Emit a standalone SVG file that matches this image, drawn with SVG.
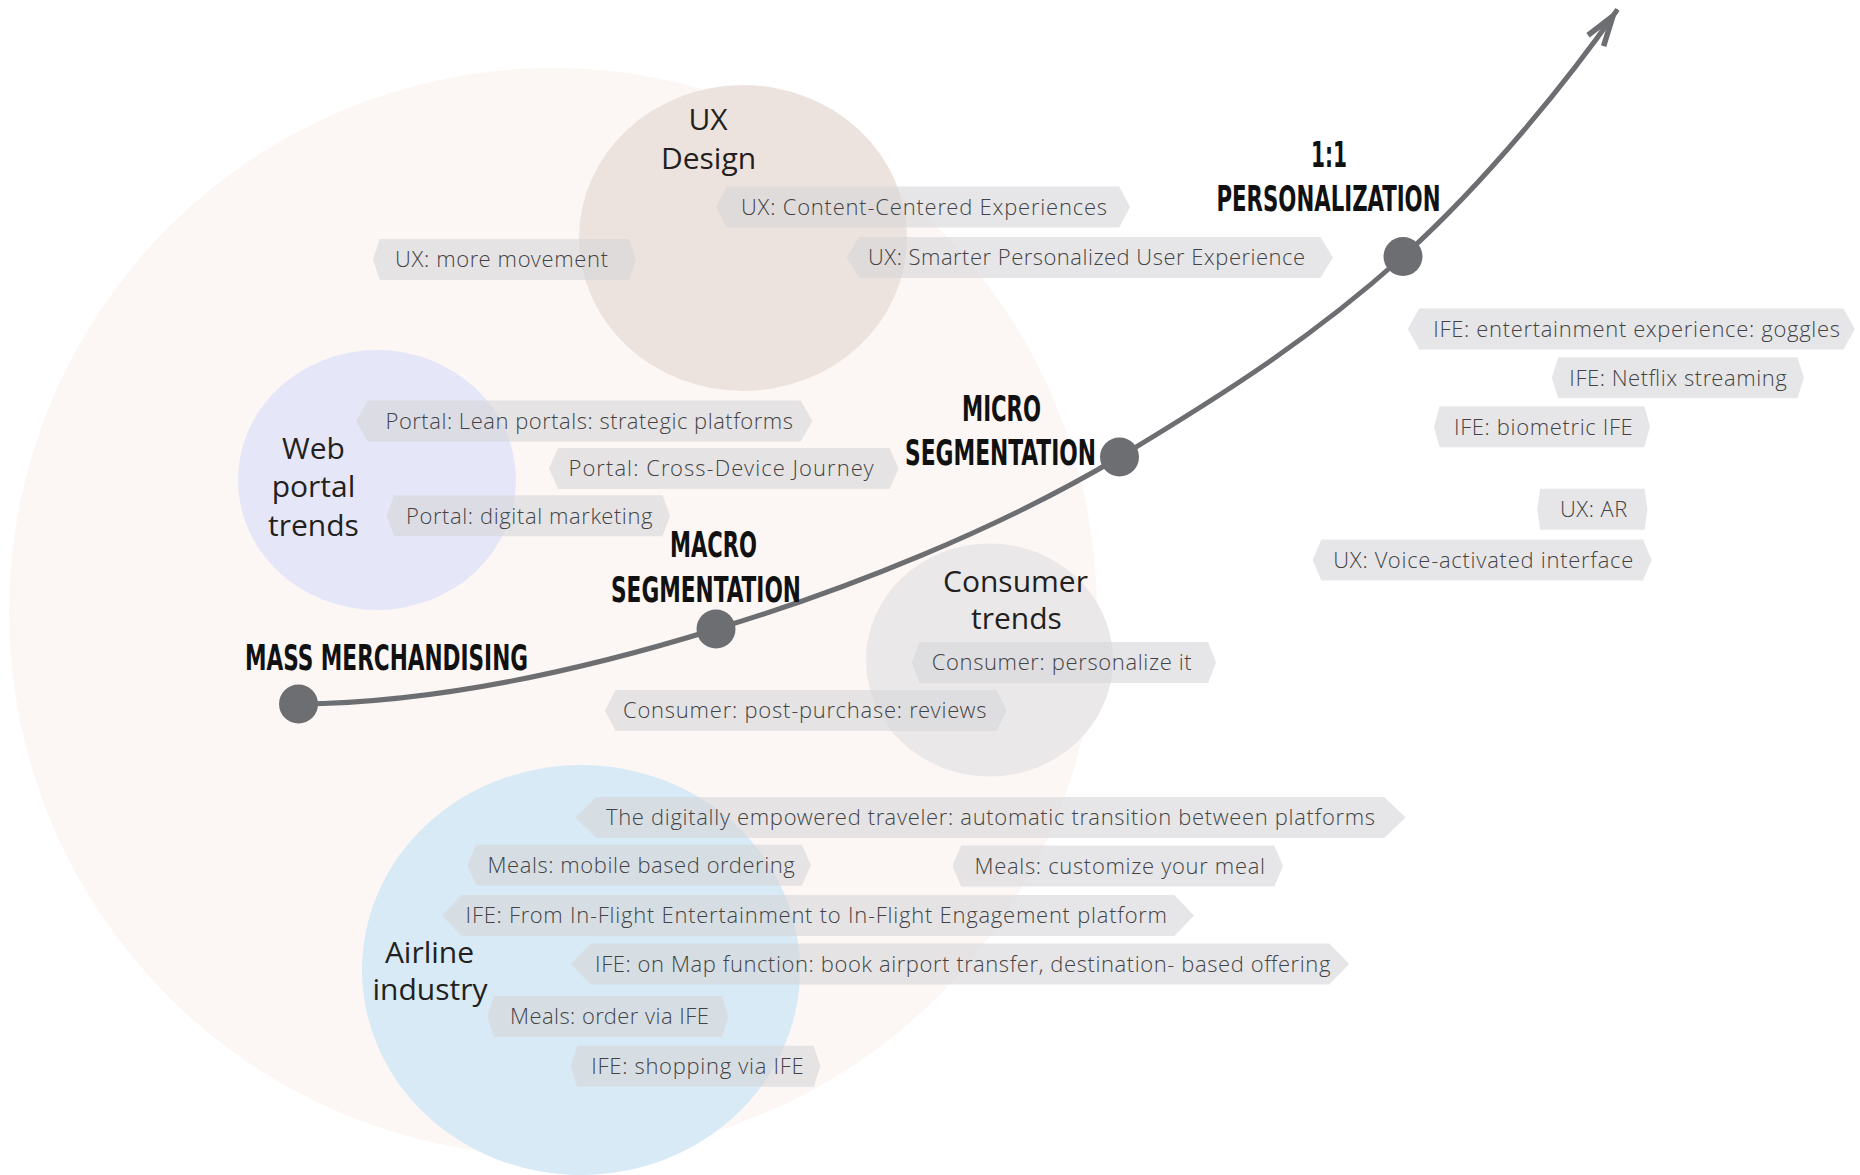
<svg xmlns="http://www.w3.org/2000/svg" width="1860" height="1175" viewBox="0 0 1860 1175">
  <style>
    .bg { fill: #ffffff; }
    .tag { fill: #d6d6d8; fill-opacity: 0.6; }
    .tagtxt { font-family: 'Open Sans Light', 'Open Sans', 'Noto Sans', 'Liberation Sans', sans-serif; font-weight: 300; font-size: 22px; fill: #434345; }
    .region { font-family: 'Open Sans', 'Noto Sans', 'Liberation Sans', sans-serif; font-size: 30px; fill: #231f20; text-anchor: middle; }
    .stage { font-family: 'Liberation Sans Narrow', 'DejaVu Sans Condensed', 'Liberation Sans', sans-serif; font-weight: 700; font-size: 36px; fill: #111111; }
    .dot { fill: #6d6e71; }
    .curve { fill: none; stroke: #6d6e71; stroke-width: 5; }
  </style>
  <defs>
    <!-- open chevron head; vertex set back so the mitred point lands on the path end -->
    <marker id="chevron" markerUnits="userSpaceOnUse" orient="auto" markerWidth="50" markerHeight="40" viewBox="-45 -20 50 40" refX="0" refY="0" overflow="visible">
      <path d="M-38,-9.5 L-8,0 L-38,9.5" fill="none" stroke="#6d6e71" stroke-width="5.5" stroke-linejoin="miter" stroke-miterlimit="12" stroke-linecap="butt"/>
    </marker>
  </defs>

  <rect class="bg" x="0" y="0" width="1860" height="1175"/>

  <!-- outer field -->
  <circle id="field" cx="553" cy="612" r="544" fill="#fcf7f4"/>

  <!-- topic regions -->
  <g id="region-ux">
    <ellipse cx="743" cy="238" rx="164" ry="153" fill="#ede3de"/>
    <text class="region" x="708" y="129.5">UX</text>
    <text class="region" x="708.5" y="168.5">Design</text>
  </g>
  <g id="region-web">
    <ellipse cx="377" cy="480" rx="139" ry="130" fill="#e5e7f8"/>
    <text class="region" x="313.5" y="458.5">Web</text>
    <text class="region" x="313.5" y="497">portal</text>
    <text class="region" x="313.5" y="536">trends</text>
  </g>
  <g id="region-consumer">
    <ellipse cx="989.5" cy="660" rx="123.5" ry="116.5" fill="#ebe8e9"/>
    <text class="region" x="1015.5" y="591.5">Consumer</text>
    <text class="region" x="1016.5" y="629.3">trends</text>
  </g>
  <g id="region-airline">
    <ellipse cx="581" cy="970" rx="219" ry="205" fill="#d8eaf6"/>
    <text class="region" x="429.5" y="962.5">Airline</text>
    <text class="region" x="430" y="999.5">industry</text>
  </g>

  <!-- growth curve -->
  <g id="connectors">
    <path class="curve" marker-end="url(#chevron)" d="M298.5,704 C440,703 590,668 716,629 C846,590 999,529 1119.5,457 C1229,391 1313,337 1403,256.5 C1488,180 1572,75 1617.5,9.5"/>
  </g>

  <!-- trend tags -->
  <g id="tag-ux-content">
    <polygon class="tag" points="716,207 726.8,186.5 1119.2,186.5 1130,207 1119.2,227.5 726.8,227.5"/>
    <text class="tagtxt" x="741" y="214.8" textLength="366" lengthAdjust="spacing">UX: Content-Centered Experiences</text>
  </g>
  <g id="tag-ux-movement">
    <polygon class="tag" points="373,259.5 379.8,239 629.2,239 636,259.5 629.2,280 379.8,280"/>
    <text class="tagtxt" x="395" y="267.3" textLength="213" lengthAdjust="spacing">UX: more movement</text>
  </g>
  <g id="tag-ux-smarter">
    <polygon class="tag" points="846.5,257.5 859.1,237 1320.4,237 1333,257.5 1320.4,278 859.1,278"/>
    <text class="tagtxt" x="868" y="265.3" textLength="437" lengthAdjust="spacing">UX: Smarter Personalized User Experience</text>
  </g>
  <g id="tag-portal-lean">
    <polygon class="tag" points="356,421 367.9,400.5 800.6,400.5 812.5,421 800.6,441.5 367.9,441.5"/>
    <text class="tagtxt" x="385.5" y="428.8" textLength="407.5" lengthAdjust="spacing">Portal: Lean portals: strategic platforms</text>
  </g>
  <g id="tag-portal-device">
    <polygon class="tag" points="549,468.6 558.1,448.1 889.5,448.1 898.6,468.6 889.5,489.1 558.1,489.1"/>
    <text class="tagtxt" x="568.5" y="476.4" textLength="305" lengthAdjust="spacing">Portal: Cross-Device Journey</text>
  </g>
  <g id="tag-portal-marketing">
    <polygon class="tag" points="386.7,515.7 394.1,495.2 662.6,495.2 670,515.7 662.6,536.2 394.1,536.2"/>
    <text class="tagtxt" x="406" y="523.5" textLength="246.5" lengthAdjust="spacing">Portal: digital marketing</text>
  </g>
  <g id="tag-consumer-personalize">
    <polygon class="tag" points="911.7,662.5 919.6,642 1208.1,642 1216,662.5 1208.1,683 919.6,683"/>
    <text class="tagtxt" x="931.7" y="670.3" textLength="260" lengthAdjust="spacing">Consumer: personalize it</text>
  </g>
  <g id="tag-consumer-reviews">
    <polygon class="tag" points="605,710.5 615.5,690 996.5,690 1007,710.5 996.5,731 615.5,731"/>
    <text class="tagtxt" x="623" y="718.3" textLength="363.5" lengthAdjust="spacing">Consumer: post-purchase: reviews</text>
  </g>
  <g id="tag-traveler">
    <polygon class="tag" points="575,817.5 596.6,797 1384.1,797 1405.7,817.5 1384.1,838 596.6,838"/>
    <text class="tagtxt" x="606" y="825.3" textLength="769" lengthAdjust="spacing">The digitally empowered traveler: automatic transition between platforms</text>
  </g>
  <g id="tag-meals-mobile">
    <polygon class="tag" points="467.4,865.3 476.3,844.8 801.9,844.8 810.8,865.3 801.9,885.8 476.3,885.8"/>
    <text class="tagtxt" x="487.5" y="873.1" textLength="307.3" lengthAdjust="spacing">Meals: mobile based ordering</text>
  </g>
  <g id="tag-meals-customize">
    <polygon class="tag" points="952.5,866 961.1,845.5 1274.4,845.5 1283,866 1274.4,886.5 961.1,886.5"/>
    <text class="tagtxt" x="974.5" y="873.8" textLength="290.5" lengthAdjust="spacing">Meals: customize your meal</text>
  </g>
  <g id="tag-ife-engagement">
    <polygon class="tag" points="442,915.5 461.6,895 1174.4,895 1194,915.5 1174.4,936 461.6,936"/>
    <text class="tagtxt" x="465.6" y="923.3" textLength="701.4" lengthAdjust="spacing">IFE: From In-Flight Entertainment to In-Flight Engagement platform</text>
  </g>
  <g id="tag-ife-map">
    <polygon class="tag" points="570.6,964 590.8,943.5 1329.1,943.5 1349.3,964 1329.1,984.5 590.8,984.5"/>
    <text class="tagtxt" x="595" y="971.8" textLength="735.4" lengthAdjust="spacing">IFE: on Map function: book airport transfer, destination- based offering</text>
  </g>
  <g id="tag-meals-ife">
    <polygon class="tag" points="487.5,1016.4 493.8,995.9 722.1,995.9 728.4,1016.4 722.1,1036.9 493.8,1036.9"/>
    <text class="tagtxt" x="510" y="1024.2" textLength="198.8" lengthAdjust="spacing">Meals: order via IFE</text>
  </g>
  <g id="tag-ife-shopping">
    <polygon class="tag" points="570.6,1066.3 577.1,1045.8 813.8,1045.8 820.3,1066.3 813.8,1086.8 577.1,1086.8"/>
    <text class="tagtxt" x="591.3" y="1074.1" textLength="212.4" lengthAdjust="spacing">IFE: shopping via IFE</text>
  </g>
  <g id="tag-ife-goggles">
    <polygon class="tag" points="1407.7,329 1419.3,308.5 1843.4,308.5 1855,329 1843.4,349.5 1419.3,349.5"/>
    <text class="tagtxt" x="1433.3" y="336.8" textLength="406.7" lengthAdjust="spacing">IFE: entertainment experience: goggles</text>
  </g>
  <g id="tag-ife-netflix">
    <polygon class="tag" points="1551.7,377.8 1558.3,357.3 1797.4,357.3 1804,377.8 1797.4,398.3 1558.3,398.3"/>
    <text class="tagtxt" x="1569.3" y="385.6" textLength="217.4" lengthAdjust="spacing">IFE: Netflix streaming</text>
  </g>
  <g id="tag-ife-biometric">
    <polygon class="tag" points="1434,426.7 1439.6,406.2 1644.4,406.2 1650,426.7 1644.4,447.2 1439.6,447.2"/>
    <text class="tagtxt" x="1454" y="434.5" textLength="178.7" lengthAdjust="spacing">IFE: biometric IFE</text>
  </g>
  <g id="tag-ux-ar">
    <polygon class="tag" points="1537.3,509.3 1540.2,488.8 1644.6,488.8 1647.5,509.3 1644.6,529.8 1540.2,529.8"/>
    <text class="tagtxt" x="1560" y="517.1" textLength="67.3" lengthAdjust="spacing">UX: AR</text>
  </g>
  <g id="tag-ux-voice">
    <polygon class="tag" points="1312.6,560 1321.4,539.5 1642.9,539.5 1651.7,560 1642.9,580.5 1321.4,580.5"/>
    <text class="tagtxt" x="1333.3" y="567.8" textLength="300" lengthAdjust="spacing">UX: Voice-activated interface</text>
  </g>

  <!-- stages along the curve -->
  <g id="stage-mass">
    <circle class="dot" cx="298.5" cy="704" r="19.5"/>
    <text class="stage" x="245" y="669.5" textLength="283" lengthAdjust="spacingAndGlyphs">MASS MERCHANDISING</text>
  </g>
  <g id="stage-macro">
    <circle class="dot" cx="716" cy="629" r="19.5"/>
    <text class="stage" x="670" y="557" textLength="87" lengthAdjust="spacingAndGlyphs">MACRO</text>
    <text class="stage" x="611" y="601.5" textLength="190" lengthAdjust="spacingAndGlyphs">SEGMENTATION</text>
  </g>
  <g id="stage-micro">
    <circle class="dot" cx="1119.5" cy="457" r="19.5"/>
    <text class="stage" x="962" y="421" textLength="79" lengthAdjust="spacingAndGlyphs">MICRO</text>
    <text class="stage" x="905" y="465" textLength="191" lengthAdjust="spacingAndGlyphs">SEGMENTATION</text>
  </g>
  <g id="stage-personal">
    <circle class="dot" cx="1403" cy="256.5" r="19.5"/>
    <text class="stage" x="1311" y="166.7" textLength="36" lengthAdjust="spacingAndGlyphs">1:1</text>
    <text class="stage" x="1216.5" y="210.7" textLength="224" lengthAdjust="spacingAndGlyphs">PERSONALIZATION</text>
  </g>
</svg>
